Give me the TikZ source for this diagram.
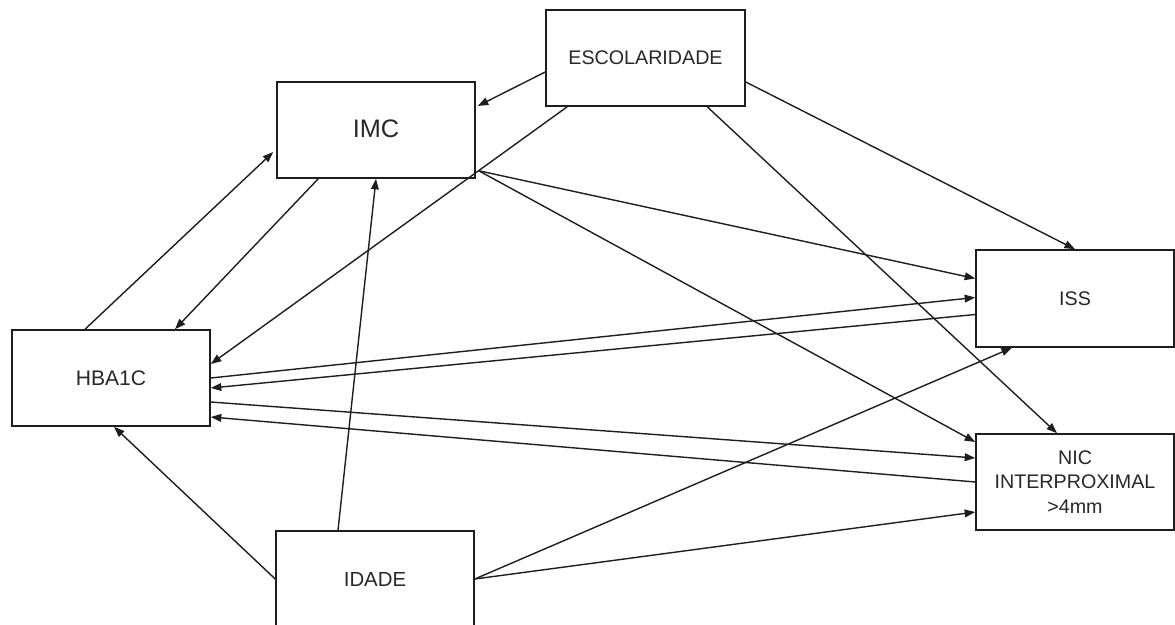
\documentclass[tikz,border=0pt]{standalone}
\usepackage{fontspec}
\setmainfont{Liberation Sans}
\usepackage{tikz}
\usetikzlibrary{arrows.meta, positioning, calc}
\usepackage{xcolor}
\definecolor{borda}{RGB}{30,30,30}
\definecolor{texto}{RGB}{40,40,40}

\tikzset{
  caixa/.style={draw=borda, line width=1.1pt, fill=white, minimum width=198*0.025cm,
    minimum height=96*0.025cm, inner sep=0pt, align=center, text=texto,
    font=\fontsize{14}{18}\selectfont},
  seta/.style={-{Triangle[length=7.5pt,width=5.5pt]}, line width=1pt, draw=borda}
}

\begin{document}
\begin{tikzpicture}[x=0.025cm, y=-0.025cm]
    \useasboundingbox (0,0) rectangle (1175,624);

    % caixas (variaveis)
    \node[caixa, minimum width=199*0.025cm] (esc) at (645.5,58) {ESCOLARIDADE};
    \node[caixa, font=\fontsize{18}{22}\selectfont] (imc) at (376,130) {\raisebox{2pt}{IMC}};
    \node[caixa, font=\fontsize{15}{18}\selectfont] (hba) at (111,378) {HBA1C};
    \node[caixa, minimum height=97*0.025cm] (iss) at (1075,298.5) {ISS};
    \node[caixa, font=\fontsize{14}{17.6}\selectfont] (nic) at (1075,482) {NIC\\INTERPROXIMAL\\>4mm};
    \node[caixa, font=\fontsize{14.5}{18}\selectfont] (ida) at (375,579) {IDADE};
    \coordinate (imcsai) at ($(imc.south east)+(3,-8)$);

    % escolaridade
    \draw[seta] ($(esc.west)+(0,14)$) -- ($(imc.east)+(2,-24)$);
    \draw[seta] ($(esc.south west)+(22,0)$) -- ($(hba.east)+(0,-14)$);
    \draw[seta] ($(esc.east)+(0,24)$) -- (iss.north);
    \draw[seta] ($(esc.south west)+(162,0)$) -- ($(nic.north)+(-18,0)$);

    % imc
    \draw[seta] (imcsai) -- ($(iss.west)+(0,-20)$);
    \draw[seta] (imcsai) -- ($(nic.west)+(0,-40)$);
    \draw[seta] ($(imc.south west)+(42,0)$) -- ($(hba.north)+(64,0)$);

    % hba1c
    \draw[seta] ($(hba.north)+(-26,0)$) -- ($(imc.west)+(-3,22)$);
    \draw[seta] (hba.east) -- ($(iss.west)+(0,-1)$);
    \draw[seta] ($(hba.east)+(0,24)$) -- ($(nic.west)+(0,-24)$);

    % desfechos -> hba1c
    \draw[seta] ($(iss.west)+(0,16)$) -- ($(hba.east)+(0,10)$);
    \draw[seta] (nic.west) -- ($(hba.east)+(0,39)$);

    % idade
    \draw[seta] (ida.west) -- ($(hba.south)+(3,0)$);
    \draw[seta] ($(ida.north)+(-37,0)$) -- (imc.south);
    \draw[seta] (ida.east) -- ($(iss.south)+(-63,0)$);
    \draw[seta] (ida.east) -- ($(nic.west)+(0,30)$);
  \end{tikzpicture}
\end{document}
